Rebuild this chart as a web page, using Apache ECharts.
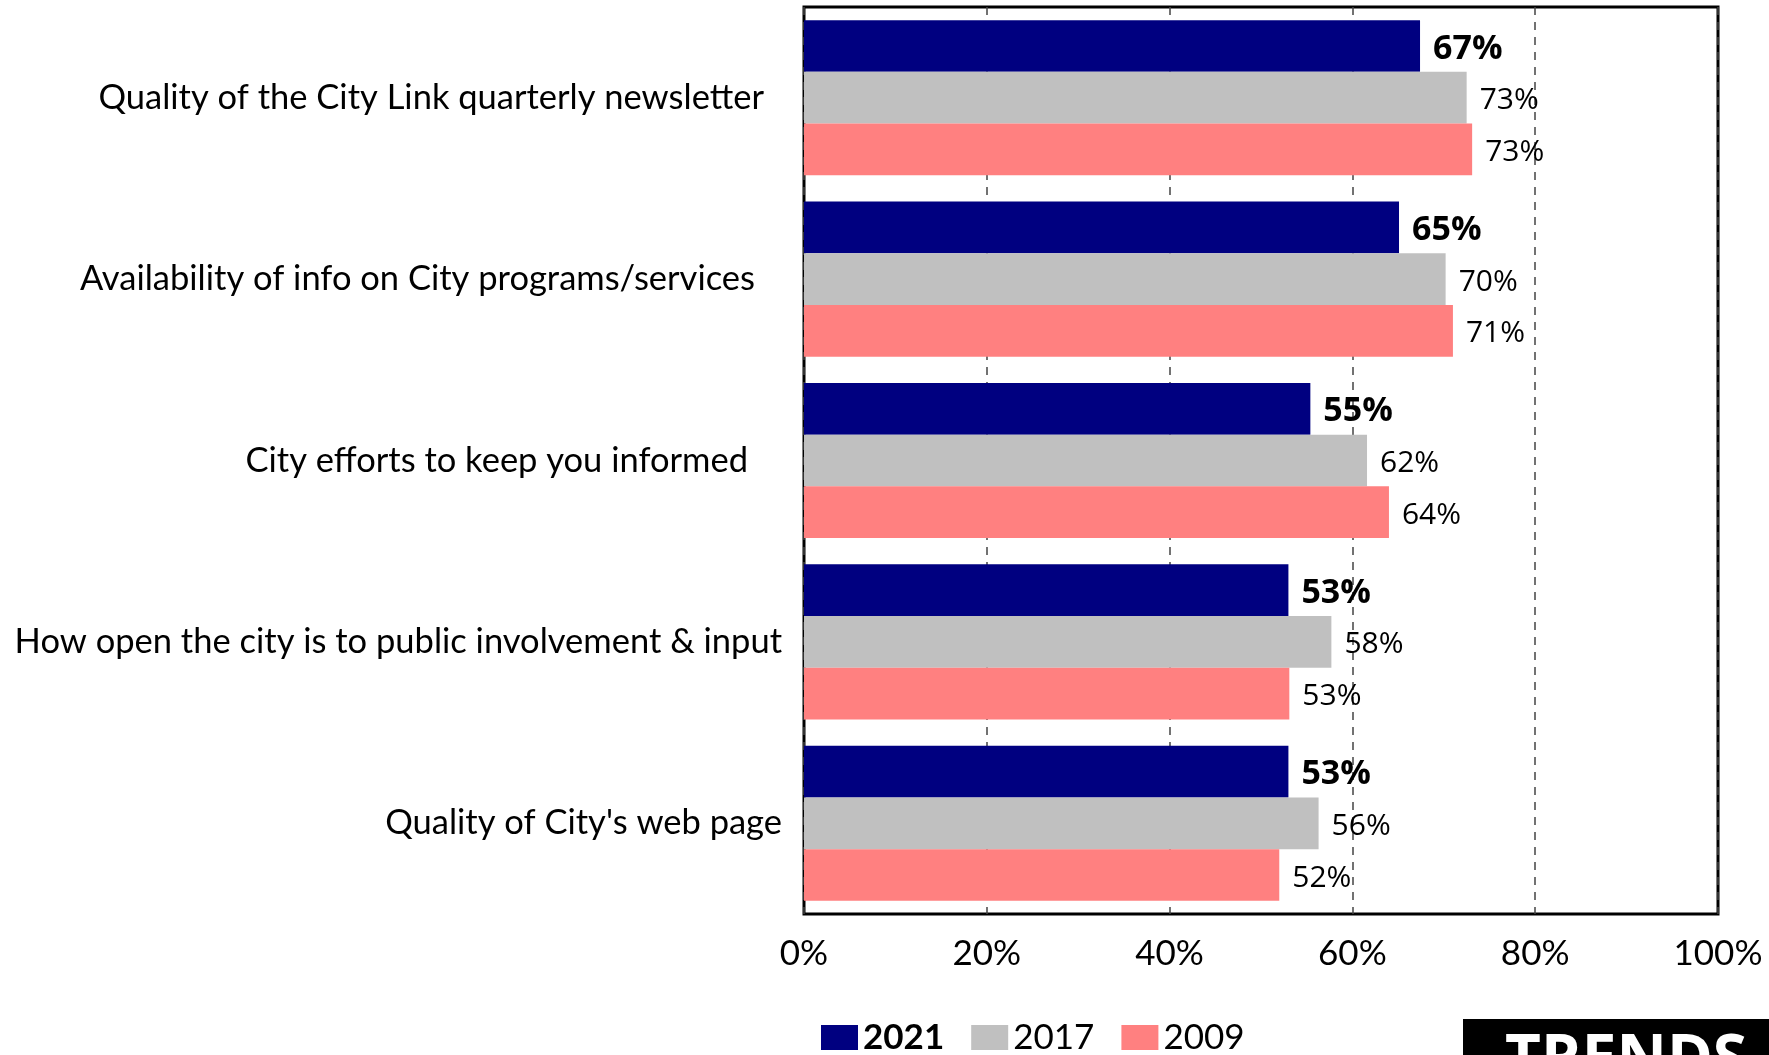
<!DOCTYPE html>
<html>
<head>
<meta charset="utf-8">
<script src="https://cdn.jsdelivr.net/npm/echarts@6/dist/echarts.min.js"></script>
<style>
html,body{margin:0;padding:0;background:#fff;}
#chart{width:1769px;height:1055px;}
</style>
</head>
<body>
<div id="chart"></div>
<script>
var categories = [
  "Quality of the City Link quarterly newsletter",
  "Availability of info on City programs/services",
  "City efforts to keep you informed",
  "How open the city is to public involvement & input",
  "Quality of City's web page"
];
var seriesNames = ["2021", "2017", "2009"];
var values2021 = [67.4, 65.1, 55.4, 53.0, 53.0];
var values2017 = [72.5, 70.2, 61.6, 57.7, 56.3];
var values2009 = [73.1, 71.0, 64.0, 53.1, 52.0];
var xTicks = [0, 20, 40, 60, 80, 100];

var labelPad = [18, 27, 34, 0, 0];
var colors = ["#000080", "#C0C0C0", "#FF8080"];

var chart = echarts.init(document.getElementById('chart'));
var rich = {};
labelPad.forEach(function(p, i){
  rich['p' + i] = {fontFamily: 'Lato', fontSize: 34.5, color: '#000', padding: [0, p, 0, 0]};
});

function mkSeries(name, data, idx, bold){
  return {
    name: name,
    type: 'bar',
    data: data,
    barGap: '0%',
    barCategoryGap: '14.5%',
    itemStyle: {color: colors[idx]},
    label: {
      show: true,
      position: 'right',
      distance: 13,
      offset: [0, 3],
      formatter: function(p){ return Math.round(p.value) + '%'; },
      color: '#000',
      fontFamily: 'Open Sans',
      fontSize: bold ? 34 : 30,
      fontWeight: bold ? 'bold' : 'normal'
    }
  };
}

chart.setOption({
  animation: false,
  color: colors,
  grid: {
    left: 804, right: 51, top: 7, bottom: 141,
    show: true, borderColor: '#000', borderWidth: 3, backgroundColor: 'transparent'
  },
  xAxis: {
    type: 'value',
    min: xTicks[0], max: xTicks[xTicks.length - 1], interval: 20,
    axisLine: {show: false},
    axisTick: {show: false},
    splitLine: {show: true, lineStyle: {color: '#444', width: 1.5, type: [8, 7]}},
    axisLabel: {
      formatter: '{value}%',
      margin: 22,
      color: '#000',
      fontFamily: 'Lato',
      fontSize: 35
    }
  },
  yAxis: {
    type: 'category',
    data: categories,
    inverse: true,
    axisLine: {show: false},
    axisTick: {show: false},
    splitLine: {show: false},
    axisLabel: {
      margin: 22,
      formatter: function(v){
        var i = categories.indexOf(v);
        return '{p' + i + '|' + v + '}';
      },
      rich: rich
    }
  },
  legend: {
    data: seriesNames,
    left: 821,
    top: 1020,
    padding: 0,
    itemWidth: 37,
    itemHeight: 25,
    itemGap: 27,
    icon: 'rect',
    selectedMode: false,
    formatter: function(n){ return n === '2021' ? '{b|' + n + '}' : '{n|' + n + '}'; },
    textStyle: {
      color: '#000',
      rich: {
        b: {fontFamily: 'Lato', fontSize: 35, lineHeight: 36, fontWeight: 'bold', color: '#000'},
        n: {fontFamily: 'Lato', fontSize: 35, lineHeight: 36, color: '#000'}
      }
    }
  },
  graphic: [
    {type: 'rect', left: 1463, top: 1019, shape: {width: 320, height: 40}, style: {fill: '#000'}, z: 100},
    {type: 'text', left: 1505, top: 1030, style: {text: 'TRENDS', fill: '#fff', font: 'bold 62px "Open Sans"'}, z: 101}
  ],
  series: [
    mkSeries(seriesNames[0], values2021, 0, true),
    mkSeries(seriesNames[1], values2017, 1, false),
    mkSeries(seriesNames[2], values2009, 2, false)
  ]
});
</script>
</body>
</html>
